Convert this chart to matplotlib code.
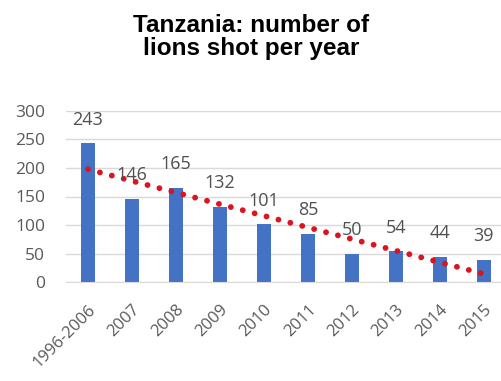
import matplotlib.pyplot as plt
import numpy as np

# data
years = ["1996-2006", "2007", "2008", "2009", "2010", "2011",
         "2012", "2013", "2014", "2015"]
lions_shot = [243, 146, 165, 132, 101, 85, 50, 54, 44, 39]
y_ticks = [0, 50, 100, 150, 200, 250, 300]

fig = plt.figure(figsize=(5.02, 3.81), dpi=100)
ax = fig.add_axes([66 / 502, 1 - 282 / 381, 440 / 502, 171 / 381])

x = np.arange(len(years))
bars = ax.bar(x, lions_shot, width=0.3, color="#4472C4", zorder=2)

# linear trendline
slope, icpt = np.polyfit(x, lions_shot, 1)
ax.plot(x, slope * x + icpt, color="#DC141E", lw=4.2,
        linestyle=(0, (0.01, 2.1)), dash_capstyle="round", zorder=3)

for xi, v in zip(x, lions_shot):
    ax.annotate(str(v), (xi, v), xytext=(0, 17), textcoords="offset points",
                ha="center", va="center", fontsize=13, color="#505050",
                family="Open Sans", zorder=4)

ax.set_xlim(-0.5, len(years) - 0.5)
ax.set_ylim(0, 300)
ax.set_yticks(y_ticks)
ax.set_yticklabels([str(t) for t in y_ticks], family="Open Sans",
                   fontsize=12.5, color="#595959")
ax.set_xticks(x)
ax.set_xticklabels(years, rotation=45, ha="right", rotation_mode="anchor",
                   family="Open Sans", fontsize=12, color="#595959")
ax.tick_params(axis="y", length=0, pad=15)
ax.tick_params(axis="x", length=0, pad=14)
ax.grid(axis="y", color="#D9D9D9", lw=1, zorder=0)
for s in ["top", "right", "left"]:
    ax.spines[s].set_visible(False)
ax.spines["bottom"].set_color("#D9D9D9")

fig.text(0.5, 1 - 37 / 381, "Tanzania: number of\nlions shot per year",
         ha="center", va="center", fontsize=17.5, fontweight="bold",
         family="Liberation Sans", linespacing=1.05)

plt.savefig("out.png", dpi=100)
